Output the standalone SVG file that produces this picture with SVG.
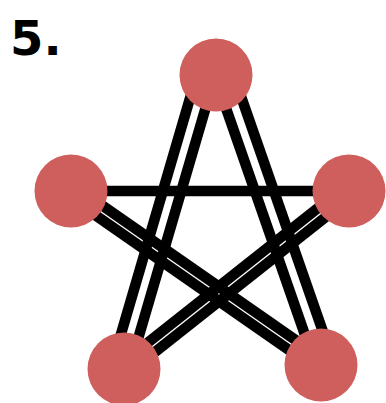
<svg xmlns="http://www.w3.org/2000/svg" width="386" height="403" viewBox="0 0 386 403">
<style>
  .e { stroke: #000; stroke-width: 10.5; fill: none; }
  .n { fill: #cf5f5d; }
  .lbl { font-family: "DejaVu Sans", "Liberation Sans", sans-serif; font-weight: bold; font-size: 48px; fill: #000; }
</style>
<rect width="386" height="403" fill="#fff"/>
<text class="lbl" x="10" y="55">5.</text>
<g id="connectors">
  <line class="e" x1="197.5" y1="72.5" x2="111.5" y2="366.5"/>
  <line class="e" x1="214.5" y1="77.5" x2="128.5" y2="371.5"/>
  <line class="e" x1="215.5" y1="78" x2="316.5" y2="368"/>
  <line class="e" x1="232.5" y1="72" x2="333.5" y2="362"/>
  <line class="e" x1="71" y1="191" x2="349" y2="191"/>
  <line class="e" x1="67.6" y1="195.9" x2="317.6" y2="369.9"/>
  <line class="e" x1="74.4" y1="186.1" x2="324.4" y2="360.1"/>
  <line class="e" x1="352.7" y1="195.7" x2="127.7" y2="373.7"/>
  <line class="e" x1="345.3" y1="186.3" x2="120.3" y2="364.3"/>
</g>
<g id="node-top"><circle class="n" cx="216" cy="75" r="36.5"/></g>
<g id="node-left"><circle class="n" cx="71" cy="191" r="36.5"/></g>
<g id="node-right"><circle class="n" cx="349" cy="191" r="36.5"/></g>
<g id="node-bottom-left"><circle class="n" cx="124" cy="369" r="36.5"/></g>
<g id="node-bottom-right"><circle class="n" cx="321" cy="365" r="36.5"/></g>
</svg>
